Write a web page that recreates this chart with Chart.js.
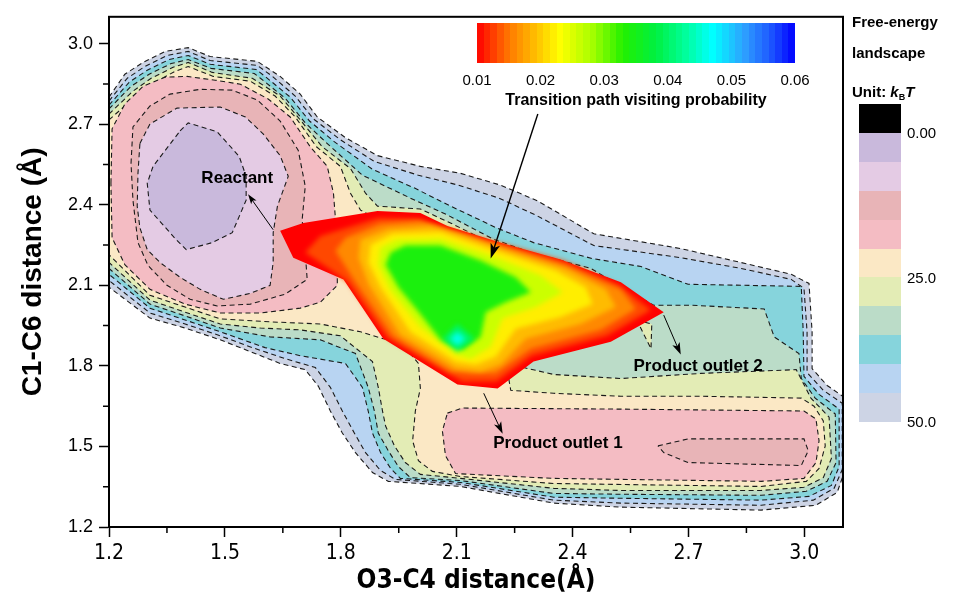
<!DOCTYPE html>
<html>
<head>
<meta charset="utf-8">
<script src="https://cdn.jsdelivr.net/npm/chart.js@4.4.1/dist/chart.umd.min.js"></script>
<style>
  body { margin: 0; background: #fff; }
  #wrap { position: relative; width: 962px; height: 606px; font-family: 'Liberation Sans', Arial, sans-serif; color: #000; }
  #c { position: absolute; left: 0; top: 0; }
  #cbar { position: absolute; left: 477px; top: 23px; width: 318px; height: 40px; display: flex; }
  #cbar div { flex: 1; }
  .cbtick { position: absolute; top: 71px; font-size: 15px; transform: translateX(-50%); }
  .cbtitle { position: absolute; left: 457px; width: 358px; top: 91px; text-align: center; font-weight: bold; font-size: 16px; }
  .fe-title { position: absolute; left: 852px; font-weight: bold; font-size: 15px; line-height: 18px; }
  .fe-title sub { font-size: 9px; vertical-align: -3px; }
  .fe-box { position: absolute; left: 859px; width: 42px; }
  .fe-lab { position: absolute; left: 907px; font-size: 15px; line-height: 18px; transform: translateY(-50%); }
</style>
</head>
<body>
<div id="wrap">
  <canvas id="c" width="962" height="606"></canvas>
  <div id="cbar"></div>
  <div id="cbticks"></div>
  <div class="cbtitle">Transition path visiting probability</div>
  <div class="fe-title" style="top:13px">Free-energy</div>
  <div class="fe-title" style="top:44px">landscape</div>
  <div class="fe-title" style="top:83px">Unit: <i>k</i><sub>B</sub><i>T</i></div>
  <div id="feKey"></div>
</div>
<script>
// axis ticks
const xTicks = [1.2, 1.5, 1.8, 2.1, 2.4, 2.7, 3.0];
const yTicks = [1.2, 1.5, 1.8, 2.1, 2.4, 2.7, 3.0];
const xMinor = [1.35, 1.65, 1.95, 2.25, 2.55, 2.85];
const yMinor = [1.35, 1.65, 1.95, 2.25, 2.55, 2.85];

// free-energy contour polygons (x = O3-C4, y = C1-C6), one per level, kBT
const fe50 = [[1.200,2.801],[1.241,2.886],[1.288,2.930],[1.345,2.971],[1.405,2.985],[1.462,2.952],[1.584,2.934],[1.643,2.878],[1.695,2.812],[1.739,2.727],[1.812,2.650],[1.895,2.583],[2.006,2.543],[2.110,2.517],[2.214,2.473],[2.310,2.414],[2.455,2.292],[2.680,2.237],[2.836,2.185],[2.966,2.141],[3.012,2.107],[3.020,1.927],[3.020,1.790],[3.059,1.727],[3.103,1.683],[3.103,1.403],[3.085,1.329],[3.030,1.281],[2.888,1.263],[2.525,1.274],[2.351,1.289],[2.110,1.351],[1.923,1.370],[1.882,1.403],[1.838,1.477],[1.804,1.550],[1.773,1.632],[1.742,1.724],[1.708,1.786],[1.643,1.809],[1.566,1.853],[1.488,1.897],[1.397,1.941],[1.306,1.978],[1.200,2.093]];
const fe45 = [[1.200,2.786],[1.247,2.871],[1.293,2.915],[1.350,2.956],[1.405,2.971],[1.462,2.937],[1.584,2.919],[1.623,2.878],[1.682,2.805],[1.729,2.720],[1.799,2.642],[1.887,2.561],[2.001,2.510],[2.105,2.473],[2.209,2.425],[2.304,2.362],[2.455,2.248],[2.680,2.203],[2.836,2.163],[2.966,2.122],[2.999,2.089],[3.007,1.927],[3.007,1.775],[3.049,1.709],[3.098,1.661],[3.098,1.414],[3.077,1.344],[3.023,1.300],[2.888,1.281],[2.525,1.289],[2.351,1.300],[2.110,1.359],[1.942,1.377],[1.903,1.410],[1.864,1.477],[1.835,1.550],[1.804,1.632],[1.773,1.720],[1.734,1.794],[1.656,1.827],[1.571,1.868],[1.488,1.912],[1.397,1.956],[1.306,1.997],[1.200,2.118]];
const fe40 = [[1.200,2.771],[1.252,2.856],[1.299,2.901],[1.356,2.941],[1.405,2.956],[1.462,2.923],[1.581,2.904],[1.604,2.878],[1.669,2.801],[1.719,2.712],[1.783,2.635],[1.882,2.532],[1.991,2.462],[2.084,2.395],[2.203,2.314],[2.299,2.259],[2.450,2.200],[2.577,2.170],[2.699,2.104],[2.992,2.096],[2.997,1.927],[2.999,1.761],[3.038,1.694],[3.090,1.639],[3.090,1.425],[3.070,1.355],[3.012,1.314],[2.888,1.300],[2.525,1.307],[2.351,1.311],[2.110,1.366],[1.954,1.381],[1.929,1.418],[1.903,1.477],[1.882,1.550],[1.871,1.632],[1.856,1.720],[1.812,1.809],[1.695,1.838],[1.604,1.868],[1.488,1.927],[1.397,1.971],[1.306,2.015],[1.200,2.141]];
const fe35 = [[1.200,2.757],[1.257,2.841],[1.304,2.886],[1.361,2.926],[1.405,2.941],[1.464,2.908],[1.576,2.889],[1.592,2.871],[1.656,2.797],[1.708,2.705],[1.768,2.624],[1.856,2.510],[1.980,2.425],[2.076,2.362],[2.193,2.273],[2.292,2.222],[2.447,2.163],[2.538,2.085],[2.610,2.026],[2.706,2.026],[2.896,2.012],[2.922,1.908],[2.986,1.846],[2.992,1.753],[3.028,1.680],[3.080,1.621],[3.082,1.440],[3.059,1.370],[3.005,1.333],[2.888,1.318],[2.525,1.322],[2.351,1.325],[2.110,1.373],[1.980,1.384],[1.949,1.425],[1.923,1.484],[1.897,1.550],[1.887,1.632],[1.871,1.720],[1.838,1.846],[1.747,1.897],[1.617,1.908],[1.488,1.941],[1.397,1.986],[1.306,2.030],[1.200,2.163]];
const fe30 = [[1.200,2.738],[1.262,2.823],[1.309,2.871],[1.366,2.912],[1.405,2.930],[1.467,2.893],[1.571,2.871],[1.643,2.805],[1.695,2.716],[1.752,2.616],[1.825,2.535],[1.864,2.443],[1.895,2.395],[2.006,2.384],[2.084,2.332],[2.214,2.240],[2.369,2.170],[2.512,2.067],[2.473,1.927],[2.206,1.816],[2.351,1.768],[2.525,1.753],[2.732,1.772],[2.979,1.786],[3.017,1.680],[3.064,1.609],[3.070,1.455],[3.049,1.384],[2.999,1.348],[2.888,1.336],[2.525,1.336],[2.351,1.344],[2.110,1.381],[2.006,1.396],[1.967,1.440],[1.939,1.502],[1.916,1.576],[1.908,1.632],[1.897,1.720],[1.882,1.816],[1.799,1.912],[1.695,1.934],[1.592,1.941],[1.488,1.956],[1.397,2.000],[1.306,2.045],[1.200,2.185]];
const fe30b = [[2.566,1.971],[2.605,1.956],[2.603,1.864]];
const fe25 = [[1.200,2.716],[1.270,2.805],[1.319,2.856],[1.371,2.897],[1.405,2.915],[1.470,2.878],[1.566,2.860],[1.630,2.805],[1.682,2.727],[1.737,2.616],[1.799,2.543],[1.825,2.443],[1.851,2.380],[2.006,2.259],[2.162,2.037],[2.227,1.816],[2.240,1.709],[2.351,1.698],[2.525,1.687],[2.732,1.687],[2.992,1.680],[3.025,1.650],[3.049,1.595],[3.054,1.502],[3.038,1.418],[3.005,1.370],[2.888,1.351],[2.351,1.362],[2.110,1.388],[2.037,1.407],[2.001,1.447],[1.986,1.521],[1.993,1.632],[2.006,1.716],[2.001,1.809],[1.954,1.890],[1.910,1.901],[1.851,1.927],[1.747,1.956],[1.617,1.964],[1.488,1.975],[1.397,2.019],[1.306,2.063],[1.200,2.214]];
const fe20a = [[1.205,2.480],[1.208,2.683],[1.241,2.775],[1.288,2.841],[1.345,2.875],[1.402,2.878],[1.475,2.864],[1.540,2.849],[1.612,2.794],[1.669,2.727],[1.721,2.616],[1.765,2.543],[1.781,2.443],[1.786,2.351],[1.791,2.222],[1.791,2.100],[1.747,2.037],[1.695,2.015],[1.592,1.997],[1.488,1.997],[1.397,2.030],[1.306,2.085],[1.241,2.177],[1.208,2.277]];
const fe20b = [[2.076,1.624],[2.115,1.643],[2.525,1.639],[2.999,1.632],[3.030,1.602],[3.038,1.521],[3.030,1.440],[2.999,1.381],[2.888,1.370],[2.351,1.381],[2.097,1.399],[2.071,1.466],[2.063,1.558]];
const fe15a = [[1.257,2.554],[1.262,2.690],[1.306,2.768],[1.358,2.812],[1.436,2.830],[1.519,2.827],[1.584,2.790],[1.643,2.712],[1.690,2.602],[1.708,2.469],[1.700,2.344],[1.708,2.222],[1.713,2.122],[1.656,2.067],[1.566,2.030],[1.480,2.023],[1.410,2.048],[1.350,2.100],[1.301,2.174],[1.275,2.259],[1.262,2.417]];
const fe15b = [[2.621,1.502],[2.699,1.528],[2.999,1.528],[3.010,1.484],[2.992,1.429],[2.699,1.440],[2.636,1.477]];
const fe10 = [[1.280,2.628],[1.306,2.701],[1.376,2.760],[1.488,2.764],[1.553,2.727],[1.599,2.664],[1.643,2.583],[1.664,2.506],[1.636,2.395],[1.625,2.296],[1.625,2.185],[1.617,2.100],[1.566,2.070],[1.496,2.048],[1.436,2.085],[1.384,2.130],[1.332,2.185],[1.299,2.233],[1.280,2.314],[1.273,2.395],[1.275,2.517]];
const fe5 = [[1.384,2.675],[1.405,2.705],[1.480,2.672],[1.537,2.580],[1.555,2.506],[1.555,2.417],[1.519,2.296],[1.467,2.259],[1.400,2.233],[1.374,2.270],[1.306,2.380],[1.299,2.480],[1.314,2.543]];

// transition path visiting probability contours
const tpLevels = [0.010, 0.013, 0.016, 0.019, 0.022, 0.026, 0.034, 0.040, 0.046];
const tp10 = [[1.643,2.303],[1.703,2.332],[1.895,2.377],[2.006,2.369],[2.076,2.321],[2.214,2.259],[2.369,2.196],[2.525,2.111],[2.636,2.000],[2.499,1.890],[2.299,1.816],[2.206,1.716],[2.102,1.731],[1.910,1.901],[1.807,2.122],[1.677,2.203]];
const tp13 = [[1.747,2.284],[1.825,2.318],[1.897,2.351],[2.001,2.347],[2.074,2.310],[2.214,2.255],[2.374,2.192],[2.520,2.100],[2.603,2.008],[2.489,1.912],[2.294,1.838],[2.203,1.742],[2.115,1.742],[1.921,1.905],[1.817,2.115],[1.708,2.222]];
const tp16 = [[1.786,2.229],[1.812,2.277],[1.903,2.329],[2.006,2.340],[2.089,2.303],[2.214,2.248],[2.382,2.174],[2.525,2.085],[2.564,2.012],[2.473,1.934],[2.292,1.864],[2.201,1.772],[2.136,1.772],[2.084,1.779],[1.934,1.912],[1.838,2.111]];
const tp19 = [[1.846,2.203],[1.851,2.270],[1.923,2.310],[2.032,2.321],[2.110,2.288],[2.214,2.237],[2.382,2.163],[2.486,2.085],[2.512,2.019],[2.421,1.956],[2.279,1.901],[2.214,1.805],[2.162,1.779],[2.097,1.790],[1.954,1.916],[1.872,2.104]];
const tp22 = [[1.872,2.185],[1.877,2.251],[1.934,2.292],[2.058,2.299],[2.201,2.229],[2.356,2.155],[2.434,2.093],[2.452,2.030],[2.369,1.982],[2.253,1.938],[2.201,1.834],[2.149,1.805],[2.097,1.816],[1.980,1.927],[1.903,2.093]];
const tp26 = [[1.897,2.177],[1.903,2.240],[1.944,2.270],[2.058,2.273],[2.188,2.211],[2.317,2.137],[2.374,2.074],[2.304,2.019],[2.219,1.978],[2.188,1.871],[2.136,1.827],[2.097,1.842],[2.006,1.945],[1.929,2.082]];
const tp34 = [[1.916,2.177],[1.929,2.222],[1.967,2.248],[2.058,2.248],[2.162,2.192],[2.253,2.130],[2.292,2.074],[2.227,2.037],[2.175,2.000],[2.162,1.908],[2.115,1.860],[2.058,1.897],[2.006,1.993],[1.949,2.093]];
const tp40 = [[2.063,1.901],[2.102,1.956],[2.146,1.901],[2.102,1.853]];
const tp46 = [[2.082,1.901],[2.102,1.927],[2.123,1.901],[2.102,1.875]];

// colour scales
const feColors = ['#c9b9dc', '#e4cbe4', '#e8b4b7', '#f4bcc3', '#fbe8c5', '#e3ecb5', '#bbdcc8', '#86d4dc', '#b8d4f2', '#cdd4e5'];
const feKeyTicks = [0, 25, 50];
const cbTicks = [0.01, 0.02, 0.03, 0.04, 0.05, 0.06];
const cbStops = [[0.010,'#ff0000'],[0.015,'#ff7800'],[0.020,'#ffcc00'],[0.023,'#ffff00'],[0.028,'#a8ff00'],[0.033,'#22f000'],[0.038,'#00f040'],[0.043,'#00ffa0'],[0.047,'#00ffff'],[0.052,'#2ea0ff'],[0.056,'#1e5aff'],[0.060,'#0000ff']];

// labels and arrows
const noteText = ['Reactant', 'Product outlet 1', 'Product outlet 2'];
const noteAt = [[1.532, 2.498], [2.362, 1.510], [2.725, 1.798]];
const arrowFrom = [[1.625, 2.307], [2.170, 1.698], [2.636, 1.989], [2.310, 2.738]];
const arrowTo = [[1.560, 2.439], [2.219, 1.547], [2.680, 1.842], [2.188, 2.200]];
const arrowHead = [10, 12, 12, 15];

const FONT = "'Liberation Sans', Arial, sans-serif";
const NARROW = "'Liberation Sans Narrow', 'Arial Narrow', 'DejaVu Sans Condensed', 'Liberation Sans', sans-serif";

function hex(c) { return [1, 3, 5].map(i => parseInt(c.slice(i, i + 2), 16)); }
function cmap(v) {
  for (let i = 1; i < cbStops.length; i++) {
    if (v <= cbStops[i][0] || i === cbStops.length - 1) {
      const [v0, c0] = cbStops[i - 1], [v1, c1] = cbStops[i];
      const t = Math.max(0, Math.min(1, (v - v0) / (v1 - v0)));
      const a = hex(c0), b = hex(c1);
      return 'rgb(' + a.map((x, k) => Math.round(x + (b[k] - x) * t)).join(',') + ')';
    }
  }
}

const toPts = a => a.map(p => ({ x: p[0], y: p[1] })).concat([{ x: a[0][0], y: a[0][1] }]);

function feSet(poly, level) {
  return {
    data: toPts(poly), showLine: true, fill: 'shape', tension: 0, pointRadius: 0,
    backgroundColor: feColors[level / 5 - 1], borderColor: '#1a1a1a', borderWidth: 1.1, borderDash: [5, 3.5]
  };
}
function tpSet(poly, i) {
  return {
    data: toPts(poly), showLine: true, fill: 'shape', tension: 0, pointRadius: 0,
    backgroundColor: cmap(tpLevels[i]), borderColor: 'rgba(0,0,0,0)', borderWidth: 0, blur: i ? 2.5 : 0
  };
}

// bottom layer first, then reversed because Chart.js paints index 0 last
const layers = [
  feSet(fe50, 50), feSet(fe45, 45), feSet(fe40, 40), feSet(fe35, 35), feSet(fe30, 30), feSet(fe30b, 30),
  feSet(fe25, 25), feSet(fe20a, 20), feSet(fe20b, 20), feSet(fe15a, 15), feSet(fe15b, 15),
  feSet(fe10, 10), feSet(fe5, 5)
];
[tp10, tp13, tp16, tp19, tp22, tp26, tp34, tp40, tp46].forEach((p, i) => layers.push(tpSet(p, i)));
const datasets = layers.reverse();

// soft colour steps inside the transition region
const softEdges = {
  id: 'softEdges',
  afterDatasetDraw(chart, args) {
    const ctx = chart.ctx;
    if (chart.$soft) { ctx.restore(); chart.$soft = false; }
    const next = chart.data.datasets[args.index - 1];
    if (next && next.blur) {
      ctx.save();
      ctx.filter = 'blur(' + next.blur + 'px)';
      chart.$soft = true;
    }
  },
  afterDatasetsDraw(chart) {
    if (chart.$soft) { chart.ctx.restore(); chart.$soft = false; }
  }
};

function arrow(ctx, x0, y0, x1, y1, head) {
  const a = Math.atan2(y1 - y0, x1 - x0), c = Math.cos(a), s = Math.sin(a);
  ctx.beginPath();
  ctx.moveTo(x0, y0);
  ctx.lineTo(x1 - c * head * 0.7, y1 - s * head * 0.7);
  ctx.stroke();
  ctx.beginPath();
  ctx.moveTo(x1, y1);
  ctx.lineTo(x1 - c * head + s * head * 0.33, y1 - s * head - c * head * 0.33);
  ctx.lineTo(x1 - c * head * 0.75, y1 - s * head * 0.75);
  ctx.lineTo(x1 - c * head - s * head * 0.33, y1 - s * head + c * head * 0.33);
  ctx.closePath();
  ctx.fill();
}

const decor = {
  id: 'decor',
  afterDatasetsDraw(chart) {
    const { ctx, scales: { x, y } } = chart;
    ctx.save();
    ctx.strokeStyle = '#000';
    ctx.fillStyle = '#000';
    arrowFrom.forEach((f, i) => {
      ctx.lineWidth = i === 3 ? 1.4 : 1;
      arrow(ctx, x.getPixelForValue(f[0]), y.getPixelForValue(f[1]),
        x.getPixelForValue(arrowTo[i][0]), y.getPixelForValue(arrowTo[i][1]), arrowHead[i]);
    });
    ctx.font = 'bold 17px ' + FONT;
    ctx.textAlign = 'center';
    ctx.textBaseline = 'middle';
    noteText.forEach((t, i) => ctx.fillText(t, x.getPixelForValue(noteAt[i][0]), y.getPixelForValue(noteAt[i][1])));
    ctx.restore();
  },
  afterDraw(chart) {
    const { ctx, chartArea: a, scales: { x, y } } = chart;
    ctx.save();
    ctx.strokeStyle = '#000';
    ctx.lineWidth = 1.5;
    ctx.beginPath();
    xMinor.forEach(v => { const p = x.getPixelForValue(v); ctx.moveTo(p, a.bottom); ctx.lineTo(p, a.bottom + 6); });
    yMinor.forEach(v => { const p = y.getPixelForValue(v); ctx.moveTo(a.left, p); ctx.lineTo(a.left - 6, p); });
    ctx.stroke();
    ctx.lineWidth = 2;
    ctx.strokeRect(a.left, a.top, a.right - a.left, a.bottom - a.top);
    ctx.restore();
  }
};

new Chart(document.getElementById('c'), {
  type: 'scatter',
  data: { datasets },
  options: {
    responsive: false,
    animation: false,
    events: [],
    layout: { padding: { top: 11, right: 119, left: 0, bottom: 0 } },
    plugins: { legend: { display: false }, tooltip: { enabled: false } },
    scales: {
      x: {
        type: 'linear', min: 1.2, max: 3.1,
        afterBuildTicks: s => { s.ticks = xTicks.map(v => ({ value: v })); },
        afterFit: s => { s.height = 79; },
        ticks: { callback: v => v.toFixed(1), font: { family: NARROW, size: 21 }, color: '#000', padding: 4, maxRotation: 0, autoSkip: false },
        grid: { drawOnChartArea: false, tickLength: 10, tickColor: '#000', tickWidth: 1.5 },
        border: { color: '#000', width: 2 },
        title: { display: true, text: 'O3-C4 distance(Å)', font: { family: NARROW, size: 26, weight: 'bold' }, color: '#000', padding: { top: 0, bottom: 9 } }
      },
      y: {
        type: 'linear', min: 1.2, max: 3.1,
        afterBuildTicks: s => { s.ticks = yTicks.map(v => ({ value: v })); },
        afterFit: s => { s.width = 109; },
        ticks: { callback: v => v.toFixed(1), font: { family: FONT, size: 18 }, color: '#000', padding: 6, autoSkip: false },
        grid: { drawOnChartArea: false, tickLength: 10, tickColor: '#000', tickWidth: 1.5 },
        border: { color: '#000', width: 2 },
        title: { display: true, text: 'C1-C6 distance (Å)', font: { family: FONT, size: 28, weight: 'bold' }, color: '#000', padding: { top: 16, bottom: 0 } }
      }
    }
  },
  plugins: [softEdges, decor]
});

// probability colour bar
const cbar = document.getElementById('cbar');
const nBands = 48;
for (let i = 0; i < nBands; i++) {
  const d = document.createElement('div');
  d.style.background = cmap(0.01 + (i + 0.5) * 0.05 / nBands);
  cbar.appendChild(d);
}
const cbt = document.getElementById('cbticks');
cbTicks.forEach(v => {
  const d = document.createElement('div');
  d.className = 'cbtick';
  d.style.left = (477 + (v - 0.01) / 0.05 * 318) + 'px';
  d.textContent = v.toFixed(2);
  cbt.appendChild(d);
});

// free-energy key
const key = document.getElementById('feKey');
['#000000'].concat(feColors).forEach((c, i) => {
  const d = document.createElement('div');
  d.className = 'fe-box';
  d.style.top = (104 + i * 28.9) + 'px';
  d.style.height = '29px';
  d.style.background = c;
  key.appendChild(d);
});
feKeyTicks.forEach(v => {
  const d = document.createElement('div');
  d.className = 'fe-lab';
  d.style.top = (133 + v / 5 * 28.9) + 'px';
  d.textContent = v === 0 ? '0.00' : v.toFixed(1);
  key.appendChild(d);
});
</script>
</body>
</html>
